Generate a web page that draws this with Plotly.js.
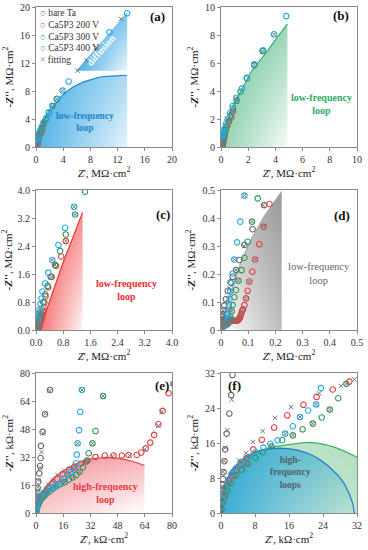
<!DOCTYPE html>
<html><head><meta charset="utf-8">
<script src="https://cdn.plot.ly/plotly-3.0.1.min.js"></script>
<style>html,body{margin:0;padding:0;background:#fff}#chart{width:368px;height:550px}</style>
</head><body><div id="chart"></div>
<script>
// ---------- DATA (impedance in kOhm·cm2) ----------
const bareTa_x = [0.05,0.1,0.2,0.3,0.4,0.5,0.6,0.8,1.0,1.33,1.96,2.4,2.7,2.9,3.9,5.3,8.3,12,18,25,35,43,55,67,86,116,159];
const bareTa_y = [0.8,2.0,3.6,5.0,6.5,7.8,9.4,11.9,14.6,18.2,22.8,27.0,31.6,38.5,46.5,56.6,70.5,88,110,140,170,190,214,250,304,360,446];

const ca200_x = [0.2,0.4,0.6,0.8,1.2,1.9,2.8,3.7,4.7,6.0,7.6,9.6,12.5,15.6,19.4,22.5,26.3,30.2,35,40.5,45.6,50.5,54.4,59.3,61.9,64.6,67.2,69.5,72,74.5,78,81,86,92,98,104,115,125,141,157,178,195,220,250,280,360,460,590,740,875];
const ca200_y = [1.2,2.6,3.8,4.9,6.0,7.4,8.6,9.8,11.0,12.6,14.6,16.8,19.6,22.4,24.8,26.6,28.3,30.1,32.2,33.0,33.0,33.0,33.3,33.3,34.7,37.1,40.4,44.8,50.9,58.5,68.6,74,89,113,140,173,208,252,306,369,450,530,650,790,960,1220,1520,1830,2100,2540];

const ca300_x = [0.2,0.5,0.9,1.5,2.4,3.5,4.9,6.3,8.1,9.8,11.9,14.4,16.9,19.2,21.6,23.7,25.6,27.6,29.5,31,33.2,35,39.5,43,49,55,64,76,86,98,114,135,170,210,270,340,430,560,710,875,1150,1440,1900,2440,3050];
const ca300_y = [1.2,2.5,3.8,5.2,6.9,8.7,10.0,11.3,12.7,14.0,15.3,16.7,17.8,19.2,20.5,21.9,23.7,26.3,29.6,34.3,40,47,67,89,117,143,176,214,258,315,387,470,600,800,1020,1260,1520,1860,2260,2730,3300,3950,4900,5850,6850];

const ca400_x = [0.2,0.4,0.7,1.1,1.7,2.5,3.5,4.8,6.4,8.2,10,11.6,13.3,15.1,16.9,18.6,20.5,22.4,23.5,24,24.5,25.3,26,27,29,31,34,38,43,49,59,71,86,105,130,160,190,270,360,480,660,855,1120,1540,1900,2440,3100,3900,4800,10800,13400];
const ca400_y = [1.5,3,4.5,6,7.6,9,10.3,11.6,12.8,14.0,15.0,15.9,16.7,18.2,19.9,22,23.5,24.9,28.6,33.5,40,47.5,58,70.5,88,111,137,167,202,252,313,387,480,600,740,900,1100,1330,1640,2000,2430,2920,3520,4170,4950,5900,6900,8050,9350,16400,19100];

const fit_x = [0.3,0.5,0.7,1.0,1.5,2.5,3.2,4.1,5.5,8,16,30,55,85,155, 0.8,1.8,2.5,4.2,5.9,7.5,9.8,12.7,16.5,23.1,28.2,31.4,45,55,64,72,74,80,92,104,125,157,460,875, 6.3,11.9,16.9,21.6,25.6,29.5,33.2,39.5,64,114,560,1150,3050, 15.1,18.6,22.4,24.5,27,49,86,480,1120,2440,3900,6100,7400,8900,12500];
const fit_y = [6.2,9.5,12,15,19,26,35,45.7,57,70,100,150,214,300,445, 4.5,7,8.8,12.1,13.8,16.3,18.8,21.8,24.3,27.4,29.1,30.6,32.5,33,36.5,50,58,74,113,173,252,369,1520,2540, 11.3,15.3,17.8,20.5,23.7,29.6,40,67,176,387,1860,3300,6850, 18.2,22,24.9,40,70.5,252,480,2000,3520,5900,8050,10900,12400,14200,18300];

// fitted equivalent-circuit curves (in each panel's own unit)
const loopA_x = [0,0.15,0.35,0.7,1.2,1.8,2.3,3.0,3.8,4.5,5.5,7.0,8.5,9.4,10.5,11.9,13.4];   // MOhm
const loopA_y = [0,0.9,1.8,2.9,3.9,4.9,5.5,6.4,7.3,7.9,8.6,9.3,9.75,10.0,10.1,10.2,10.25];
const diffA_x = [5.9,13.4,13.4];
const diffA_y = [10.9,19.2,10.9];
const loopB_x = [0,0.1,0.24,0.49,0.73,1.0,1.22,1.6,2.2,2.8,3.41,4.1,4.88];
const loopB_y = [0,0.45,0.95,1.9,2.62,3.15,3.57,4.3,5.36,6.1,6.85,7.8,8.8];
const loopC_x = [0.13,0.2,0.31,0.41,0.51,0.61,0.71,0.85,1.0,1.18,1.37];
const loopC_y = [0,0.19,0.57,0.86,1.14,1.43,1.71,2.07,2.43,2.9,3.36];
const loopD_x = [0,0.002,0.008,0.018,0.03,0.043,0.058,0.074,0.092,0.11,0.135,0.159,0.19,0.223];
const loopD_y = [0,0.012,0.04,0.071,0.11,0.155,0.2,0.244,0.283,0.321,0.365,0.405,0.45,0.494];
const loopE_x = [0,0.3,0.8,1.8,3.3,5.5,8.3,11,14.1,18,22,26,29.9,34,37.7,41.5,45.6,49.5,53.4,58,63.3,63.8];  // kOhm
const loopE_y = [0,1.8,3.8,7.5,11.4,15,18.1,20.7,22.9,25.5,27.6,29.2,30.5,31.3,31.8,32,31.8,31.3,30.5,29.3,27.6,27.4];
const loopF400_x = [0,0.3,0.8,1.5,2.4,3.5,4.7,6,7.8,9.8,11.8,13.8,15.7,17.7,19.6,21.6,23.5,25.5,27.5,29,30.2,31,31.4];
const loopF400_y = [0,3.5,6,8,9.8,11,12.1,13,14,14.5,14.8,14.9,14.8,14.5,14,13.2,12.1,10.6,8.7,6.8,4.4,2.2,0];
const loopF300_x = [0,1.5,3.5,6,9,11,13,15,17,19,21,23,25,27,29,31,32.5];
const loopF300_y = [0,7.5,10.8,12.8,14.2,14.9,15.3,15.6,15.9,16.1,16.2,16.0,15.6,15.0,14.2,13.3,12.6];

const legendNames = ['bare Ta','Ca5P3 200 V','Ca5P3 300 V','Ca5P3 400 V','fitting'];

// ---------- STYLE ----------
const SERIF = 'Liberation Serif, DejaVu Serif, serif';
const series = [
  {name:legendNames[0], x:bareTa_x, y:bareTa_y, color:'rgb(105,105,105)'},
  {name:legendNames[1], x:ca200_x, y:ca200_y, color:'rgb(232,60,60)'},
  {name:legendNames[2], x:ca300_x, y:ca300_y, color:'rgb(45,150,85)'},
  {name:legendNames[3], x:ca400_x, y:ca400_y, color:'rgb(30,170,232)'}
];
const fitColor = 'rgb(120,120,120)';

const panels = [
  {xa:'x',  ya:'y',  k:0.001},
  {xa:'x2', ya:'y2', k:0.001},
  {xa:'x3', ya:'y3', k:0.001},
  {xa:'x4', ya:'y4', k:0.001},
  {xa:'x5', ya:'y5', k:1},
  {xa:'x6', ya:'y6', k:1}
];

const traces = [];
function closeDown(xs, ys){ return [xs.concat([xs[xs.length-1], xs[0]]), ys.concat([0,0])]; }
function addFill(p, xs, ys, rgb, h0, h1, v0, v1){
  const base = {type:'scatter', x:xs, y:ys, xaxis:p.xa, yaxis:p.ya, mode:'none', fill:'toself',
    fillcolor:'rgba('+rgb+',0)', hoverinfo:'skip', showlegend:false};
  traces.push(Object.assign({}, base, {fillgradient:{type:'horizontal',
    colorscale:[[0,'rgba('+rgb+','+h0+')'],[1,'rgba('+rgb+','+h1+')']]}}));
  traces.push(Object.assign({}, base, {fillgradient:{type:'vertical',
    colorscale:[[0,'rgba('+rgb+','+v0+')'],[1,'rgba('+rgb+','+v1+')']]}}));
}
function addLine(p, xs, ys, color){
  traces.push({type:'scatter', x:xs, y:ys, xaxis:p.xa, yaxis:p.ya, mode:'lines',
    line:{color:color, width:1.2}, hoverinfo:'skip', showlegend:false});
}

// fills + fitted lines
let c;
c = closeDown(loopA_x, loopA_y); addFill(panels[0], c[0], c[1], '40,160,225', 0.8, 0.12, 0.0, 0.3);
addFill(panels[0], diffA_x, diffA_y, '40,160,225', 0.85, 0.1, 0.0, 0.6);
addLine(panels[0], loopA_x, loopA_y, 'rgb(30,135,205)');
c = closeDown(loopB_x, loopB_y); addFill(panels[1], c[0], c[1], '60,175,115', 0.55, 0.05, 0.0, 0.5);
addLine(panels[1], loopB_x, loopB_y, 'rgb(50,178,110)');
c = closeDown(loopC_x, loopC_y); addFill(panels[2], c[0], c[1], '240,60,60', 0.7, 0.05, 0.0, 0.55);
addLine(panels[2], loopC_x, loopC_y, 'rgb(240,50,50)');
c = closeDown(loopD_x, loopD_y); addFill(panels[3], c[0], c[1], '110,110,110', 0.0, 0.45, 0.0, 0.45);
addLine(panels[3], loopD_x, loopD_y, 'rgb(165,165,165)');
c = closeDown(loopE_x, loopE_y); addFill(panels[4], c[0], c[1], '240,110,120', 0.35, 0.0, 0.0, 0.55);
addLine(panels[4], loopE_x, loopE_y, 'rgb(240,70,70)');
c = closeDown(loopF300_x, loopF300_y); addFill(panels[5], c[0], c[1], '100,190,130', 0.15, 0.4, 0.0, 0.2);
c = closeDown(loopF400_x, loopF400_y); addFill(panels[5], c[0], c[1], '30,160,210', 0.85, 0.05, 0.0, 0.3);
addLine(panels[5], loopF300_x, loopF300_y, 'rgb(60,180,95)');
addLine(panels[5], loopF400_x, loopF400_y, 'rgb(30,125,200)');

// measured data + fitting marks
panels.forEach(function(p, i){
  series.forEach(function(s){
    traces.push({type:'scatter', name:s.name, x:s.x.map(v=>v*p.k), y:s.y.map(v=>v*p.k),
      xaxis:p.xa, yaxis:p.ya, mode:'markers', showlegend:false,
      marker:{symbol:'circle-open', size:5.5, color:s.color, line:{width:1.1, color:s.color}}});
  });
  traces.push({type:'scatter', name:legendNames[4], x:fit_x.map(v=>v*p.k), y:fit_y.map(v=>v*p.k),
    xaxis:p.xa, yaxis:p.ya, mode:'markers', showlegend:false,
    marker:{symbol:'x-thin-open', size:4.5, color:fitColor, line:{width:1, color:fitColor}}});
});

// ---------- LAYOUT ----------
const W = 368, H = 550;
const colL = [36/W, 172/W], colR = [221/W, 357/W];
const rowT = [1-147/H, 1-7/H], rowM = [1-330/H, 1-190/H], rowB = [1-513.3/H, 1-373.3/H];
const MO = 'M\u03A9\u00B7cm<sup>2</sup>', KO = 'k\u03A9\u00B7cm<sup>2</sup>';

function ax(domain, range, dtick, fmt, anchor, title, isY){
  return {domain:domain, range:range, dtick:dtick, tick0:0, tickformat:fmt, anchor:anchor,
    showline:true, mirror:true, linecolor:'#8a8a8a', linewidth:1,
    ticks:'outside', ticklen:3, tickcolor:'#8a8a8a', showgrid:false, zeroline:false,
    tickfont:{family:SERIF, size:10, color:'#333'}, automargin:false, fixedrange:true,
    title:{text:title, font:{family:SERIF, size:11, color:'#222'}, standoff: isY ? 4 : 2}};
}
const xT = u => '<i>Z</i>\', ' + u;
const yT = u => '<b><i>-Z</i>\'\'</b>, ' + u;

const layout = {
  width:W, height:H, margin:{l:0,r:0,t:0,b:0}, paper_bgcolor:'#fff', plot_bgcolor:'rgba(0,0,0,0)',
  showlegend:false,
  xaxis:  ax(colL,[0,20],4,'','y',xT(MO)),
  yaxis:  ax(rowT,[0,20],4,'','x',yT(MO),true),
  xaxis2: ax(colR,[0,10],2,'','y2',xT(MO)),
  yaxis2: ax(rowT,[0,10],2,'','x2',yT(MO),true),
  xaxis3: ax(colL,[0,4],0.8,'.1f','y3',xT(MO)),
  yaxis3: ax(rowM,[0,4],0.8,'.1f','x3',yT(MO),true),
  xaxis4: ax(colR,[0,0.5],0.1,'','y4',xT(MO)),
  yaxis4: ax(rowM,[0,0.5],0.1,'','x4',yT(MO),true),
  xaxis5: ax(colL,[0,80],16,'','y5',xT(KO)),
  yaxis5: ax(rowB,[0,80],16,'','x5',yT(KO),true),
  xaxis6: ax(colR,[0,32],8,'','y6',xT(KO)),
  yaxis6: ax(rowB,[0,32],8,'','x6',yT(KO),true),
  annotations: []
};

function ann(xref, yref, x, y, text, size, color, bold, extra){
  layout.annotations.push(Object.assign({xref:xref, yref:yref, x:x, y:y, text: bold ? '<b>'+text+'</b>' : text,
    showarrow:false, font:{family:SERIF, size:size, color:color}, align:'center'}, extra||{}));
}
// panel letters
ann('x','y',17.9,18.65,'(a)',13,'#111',true);
ann('x2','y2',8.83,9.36,'(b)',13,'#111',true);
ann('x3','y3',3.74,3.31,'(c)',13,'#111',true);
ann('x4','y4',0.444,0.41,'(d)',13,'#111',true);
ann('x5','y5',74.1,73.3,'(e)',13,'#111',true);
ann('x6','y6',3.06,29.3,'(f)',13,'#111',true);
// region labels
ann('x','y',7.2,3.5,'low-frequency<br>loop',9.5,'rgb(35,130,200)',true);
ann('x','y',9.5,13.8,'diffusion',10,'#ffffff',true,{textangle:-49});
ann('x2','y2',7.36,3.1,'low-frequency<br>loop',10,'rgb(45,170,100)',true);
ann('x3','y3',2.67,1.14,'low-frequency<br>loop',10,'rgb(235,45,45)',true);
ann('x4','y4',0.361,0.2025,'low-frequency<br>loop',10.5,'#666',false);
ann('x5','y5',40.7,11.4,'high-frequency<br>loop',10,'rgb(235,55,60)',true);
ann('x6','y6',16.3,9.4,'high-<br>frequency<br>loops',9.5,'rgb(85,95,105)',true);
// legend (panel a)
const legColors = [series[0].color, series[1].color, series[2].color, series[3].color, fitColor];
const legRows = [13.3, 25, 36.5, 48, 60];
legendNames.forEach(function(n, i){
  const sym = i < 4 ? '\u25CB' : '\u00D7';
  layout.annotations.push({xref:'paper', yref:'paper', x:38/W, y:1-legRows[i]/H, xanchor:'left', yanchor:'middle',
    text:'<span style="color:'+legColors[i]+'">'+sym+'</span> '+n, showarrow:false,
    font:{family:SERIF, size:9.5, color:'#333'}});
});

Plotly.newPlot('chart', traces, layout, {displayModeBar:false, staticPlot:true});
</script></body></html>
